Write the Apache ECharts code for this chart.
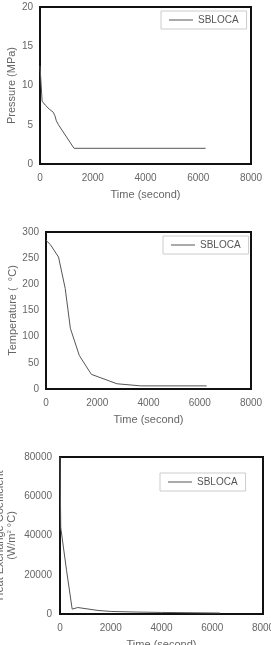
<!DOCTYPE html>
<html>
<head>
    <meta charset="utf-8">
    <title>SBLOCA</title>
    <script src="https://cdn.jsdelivr.net/npm/echarts@6/dist/echarts.min.js"></script>
    <style>
        html, body { margin: 0; padding: 0; background: #fff; }
    </style>
</head>
<body>
    <div id="main" style="width: 271px;height:645px;"></div>
    <script type="text/javascript">
        // 读图得到的数据 (time s, value)
        var pressure = [[0, 12.5], [80, 8], [200, 7.5], [350, 7], [500, 6.6], [560, 6.2], [620, 5.5], [700, 5], [1290, 2], [6280, 2]];
        var temperature = [[0, 284], [170, 276], [490, 252], [750, 192], [950, 116], [1300, 64], [1770, 28], [2380, 17], [2770, 10], [3700, 6], [6270, 6]];
        var heatCoef = [[0, 80000], [30, 44000], [260, 22000], [480, 2500], [700, 3300], [1500, 1800], [2000, 1300], [3000, 1000], [4000, 800], [6300, 500]];

        var font = 'Liberation Sans';
        var txt = '#666';

        function plain(v) { return String(v); }

        function xAxis(idx) {
            return {
                gridIndex: idx, type: 'value', min: 0, max: 8000, interval: 2000,
                name: 'Time (second)', nameLocation: 'middle', nameGap: 25, nameMoveOverlap: false,
                nameTextStyle: { color: txt, fontFamily: font, fontSize: 11 },
                axisLine: { show: false }, axisTick: { show: false },
                splitLine: { show: false },
                axisLabel: { color: txt, fontFamily: font, fontSize: 10, margin: 9, formatter: plain }
            };
        }
        function yAxis(idx, max, interval, name, gap, margin) {
            return {
                gridIndex: idx, type: 'value', min: 0, max: max, interval: interval,
                name: name, nameLocation: 'middle', nameGap: gap, nameMoveOverlap: false,
                nameTextStyle: {
                    color: txt, fontFamily: font, fontSize: 11, lineHeight: 12,
                    rich: { sup: { fontSize: 6, verticalAlign: 'top', color: txt, fontFamily: font, padding: [0, 0, 5, 0] } }
                },
                axisLine: { show: false }, axisTick: { show: false },
                splitLine: { show: false },
                axisLabel: { color: txt, fontFamily: font, fontSize: 10, margin: margin, formatter: plain }
            };
        }
        function legend(top, left) {
            return {
                data: ['SBLOCA'], top: top, left: left,
                icon: 'rect', itemWidth: 24, itemHeight: 1,
                borderColor: '#ccc', borderWidth: 1, borderRadius: 0,
                padding: [4, 8, 4, 8],
                textStyle: { color: '#555', fontFamily: font, fontSize: 10 }
            };
        }
        function series(idx, data) {
            return {
                name: 'SBLOCA', type: 'line', xAxisIndex: idx, yAxisIndex: idx,
                data: data, symbol: 'none', smooth: false,
                lineStyle: { color: '#555', width: 1 }, itemStyle: { color: '#555' }
            };
        }
        function grid(left, top, width) {
            return {
                left: left, top: top, width: width, height: 157,
                show: true, borderColor: '#111', borderWidth: 2,
                containLabel: false, outerBoundsMode: 'none'
            };
        }

        var myChart = echarts.init(document.getElementById('main'));
        var option = {
            animation: false,
            grid: [grid(40, 7, 211), grid(46, 232, 205), grid(60, 457, 203)],
            legend: [legend(11, 161), legend(236, 163), legend(473, 160)],
            xAxis: [xAxis(0), xAxis(1), xAxis(2)],
            yAxis: [
                yAxis(0, 20, 5, 'Pressure (MPa)', 22, 7),
                yAxis(1, 300, 50, 'Temperature (  °C)', 27, 7),
                yAxis(2, 80000, 20000, 'Heat Exchange Coefficient\n(W/m{sup|2} °C)', 42, 8)
            ],
            series: [series(0, pressure), series(1, temperature), series(2, heatCoef)]
        };
        myChart.setOption(option);
    </script>
</body>
</html>
